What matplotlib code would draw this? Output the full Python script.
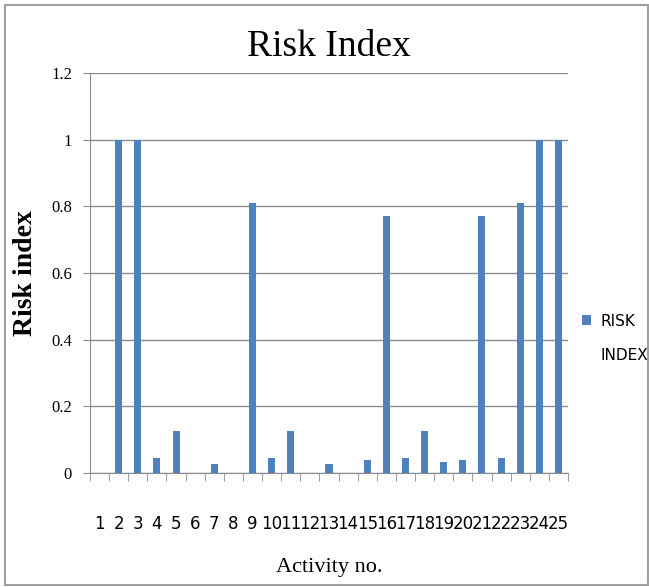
import matplotlib.pyplot as plt
import matplotlib.patches as mpatches
import numpy as np

# Risk index per activity
activities = [str(i) for i in range(1, 26)]
risk_index = [0, 1.0, 1.0, 0.045, 0.126, 0, 0.027, 0, 0.81, 0.045,
              0.126, 0, 0.027, 0, 0.039, 0.77, 0.045, 0.126, 0.033, 0.039,
              0.77, 0.045, 0.81, 1.0, 1.0]
yticks = [0, 0.2, 0.4, 0.6, 0.8, 1, 1.2]
ytick_labels = ['0', '0.2', '0.4', '0.6', '0.8', '1', '1.2']

bar_color = '#4F81BD'
grid_color = '#8c8c8c'

fig = plt.figure(figsize=(6.49, 5.87), dpi=100)
ax = fig.add_axes([90 / 649, 1 - 473 / 587, 478 / 649, 400 / 587])

x = np.arange(len(activities))
ax.bar(x, risk_index, width=0.37, color=bar_color, zorder=3, label='RISK')

ax.set_xlim(-0.5, len(activities) - 0.5)
ax.set_ylim(0, 1.2)
ax.set_yticks(yticks)
ax.set_yticklabels(ytick_labels, fontfamily='Liberation Serif', fontsize=12)
ax.yaxis.grid(True, color=grid_color, linewidth=1.0, zorder=0)

# category labels centred, tick marks between categories
ax.set_xticks(x)
ax.set_xticklabels(activities, fontfamily='Liberation Sans Narrow', fontsize=12)
ax.tick_params(axis='x', length=0, pad=30)
ax.set_xticks(np.arange(-0.5, len(activities)), minor=True)
ax.tick_params(axis='x', which='minor', length=6, color=grid_color, direction='out')
ax.tick_params(axis='y', length=5, color=grid_color, direction='out', pad=8)

for side in ['top', 'right']:
    ax.spines[side].set_visible(False)
for side in ['left', 'bottom']:
    ax.spines[side].set_color(grid_color)

ax.set_title('Risk Index', fontfamily='Liberation Serif', fontsize=27, pad=12)
ax.set_ylabel('Risk index', fontfamily='Liberation Serif', fontsize=20,
              fontweight='bold')
ax.yaxis.set_label_coords(-0.108, 0.5)
ax.set_xlabel('Activity no.', fontfamily='Liberation Serif', fontsize=16)
ax.xaxis.set_label_coords(0.5, -0.212)

# legend: marker beside first line, second line of the label underneath
leg = ax.legend(loc='center left', bbox_to_anchor=(1.0, 0.38), frameon=False,
                handlelength=0.6, handleheight=0.6, handletextpad=0.6,
                prop={'family': 'Liberation Sans Narrow', 'size': 11})
ax.text(1.067, 0.295, 'INDEX', transform=ax.transAxes, ha='left', va='center',
        fontfamily='Liberation Sans Narrow', fontsize=11)

# outer chart border
fig.patches.append(mpatches.Rectangle((5 / 649, 2 / 587), 1 - 6 / 649, 1 - 7 / 587,
                                      transform=fig.transFigure, fill=False,
                                      edgecolor='#a0a0a0', linewidth=1.5))

fig.savefig('out.png', dpi=100)
